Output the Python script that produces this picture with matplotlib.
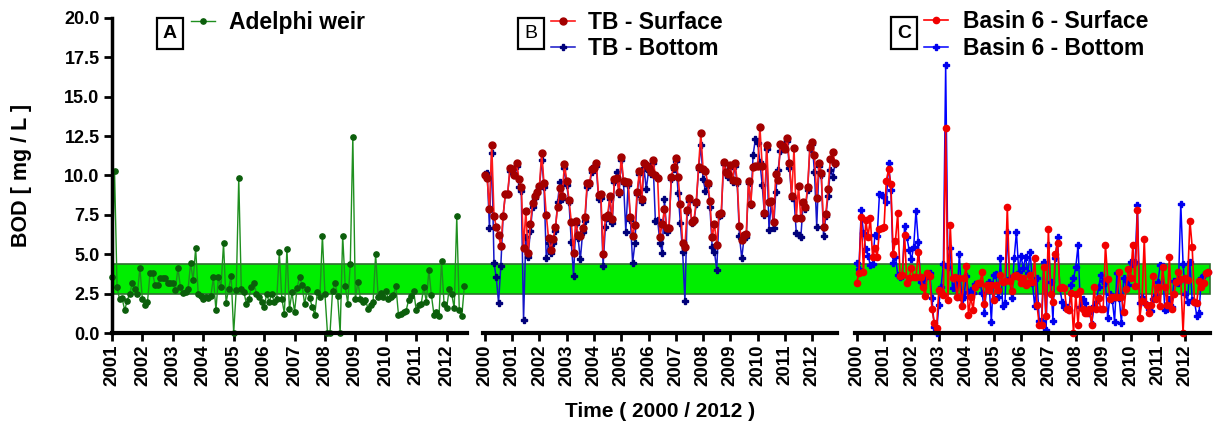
import numpy as np
import matplotlib
matplotlib.use("Agg")
import matplotlib.pyplot as plt
from matplotlib import transforms
from matplotlib.lines import Line2D
from matplotlib.patches import Rectangle

plt.rcParams['font.family'] = ['Liberation Sans', 'DejaVu Sans']
plt.rcParams['font.weight'] = 'bold'

# monthly BOD readings (mg/L)
adelphi_start = 2001
adelphi = [3.57, 10.3, 2.9, 2.13, 2.2, 1.45, 2.06, 2.5, 3.15, 2.77, 2.47, 4.13,
           2.13, 1.77, 1.98, 3.79, 3.79, 3.04, 3.04, 3.47, 3.47, 3.47, 3.19, 3.19,
           3.19, 2.72, 4.13, 2.89, 2.57, 2.6, 2.77, 4.43, 3.36, 5.38, 2.5, 2.36,
           2.15, 2.3, 2.25, 2.34, 3.53, 1.45, 3.57, 2.94, 5.7, 1.91, 2.8, 3.64,
           0.0, 2.72, 9.83, 2.81, 2.62, 1.87, 2.19, 2.94, 3.15, 2.5, 2.3, 1.98,
           1.62, 2.47, 1.98, 2.47, 1.98, 2.19, 5.13, 2.17, 1.23, 5.36, 1.51, 2.6,
           1.34, 2.85, 3.57, 3.04, 1.81, 2.77, 2.2, 1.66, 1.17, 2.6, 2.3, 6.19,
           2.47, 0.0, 0.0, 2.68, 3.19, 2.36, 0.0, 6.19, 2.98, 1.87, 4.38, 12.46,
           2.17, 3.26, 2.17, 1.98, 2.09, 1.55, 1.8, 1.98, 5.0, 2.3, 2.55, 2.3,
           2.68, 2.17, 2.3, 2.43, 2.96, 1.17, 1.23, 1.32, 1.4, 2.09, 2.34, 2.68,
           1.45, 1.77, 1.87, 2.94, 1.96, 4.0, 2.4, 1.17, 1.34, 1.09, 4.57, 1.83,
           1.57, 2.77, 2.47, 1.57, 7.4, 1.45, 1.09, 2.98]

tb_start = 2000
tb_surface = [10.03, 9.82, 7.85, 11.94, 7.43, 6.75, 6.22, 5.52, 7.43, 8.83, 8.83, 10.45,
              10.4, 10.03, 10.77, 9.76, 9.3, 5.38, 7.77, 5.06, 6.9, 8.23, 8.7, 8.97,
              9.33, 11.45, 9.5, 7.49, 6.01, 5.27, 5.95, 6.71, 8.0, 9.19, 8.7, 10.73,
              9.67, 8.44, 7.07, 5.1, 7.13, 6.22, 6.16, 6.65, 7.34, 9.5, 9.5, 10.39,
              10.45, 10.77, 8.76, 8.83, 5.02, 7.39, 7.49, 8.7, 7.22, 9.76, 9.82, 8.97,
              11.2, 9.67, 9.61, 9.6, 7.39, 6.16, 6.86, 8.97, 10.31, 8.49, 10.77, 10.67,
              10.45, 10.24, 10.98, 10.0, 9.82, 6.12, 6.92, 7.85, 6.65, 6.65, 9.93, 10.52,
              11.09, 9.93, 8.19, 5.69, 5.48, 7.81, 8.55, 7.07, 7.2, 8.34, 10.52, 12.68,
              10.39, 10.31, 9.55, 8.4, 6.07, 6.92, 5.57, 7.56, 7.6, 10.88, 10.24, 10.1,
              10.67, 9.71, 10.81, 9.67, 6.79, 5.9, 6.22, 6.29, 9.67, 8.19, 10.56, 10.6,
              10.6, 13.06, 10.6, 7.64, 11.94, 8.34, 8.4, 7.07, 10.1, 9.71, 12.0, 11.9,
              11.7, 12.36, 10.77, 8.7, 11.72, 7.28, 9.33, 7.28, 8.34, 8.02, 9.25, 11.83,
              12.15, 11.3, 8.55, 10.77, 10.18, 6.75, 7.56, 9.12, 11.03, 11.51, 10.81]
tb_bottom = [10.1, 10.18, 6.65, 11.45, 4.42, 3.53, 1.93, 4.25, 7.43, 8.83, 8.83, 10.3,
             10.2, 10.03, 10.6, 9.25, 9.0, 0.83, 6.07, 4.85, 6.5, 8.0, 8.6, 8.9,
             9.2, 11.0, 9.3, 4.74, 5.69, 5.1, 5.7, 6.5, 8.3, 9.6, 8.49, 10.5,
             9.4, 8.3, 5.8, 3.62, 6.9, 6.0, 4.68, 6.4, 7.1, 9.3, 9.4, 10.2,
             10.6, 10.6, 8.5, 8.6, 4.25, 6.75, 7.3, 8.5, 7.0, 9.6, 10.24, 8.8,
             11.0, 9.5, 6.43, 9.4, 7.2, 4.47, 5.69, 8.8, 10.1, 8.3, 10.5, 9.12,
             10.3, 10.1, 10.8, 7.13, 7.17, 5.74, 5.1, 8.49, 6.43, 6.6, 9.8, 10.4,
             10.9, 8.91, 6.96, 5.16, 2.05, 7.7, 8.4, 7.0, 7.1, 8.2, 10.4, 11.94,
             9.76, 9.04, 9.4, 8.02, 5.44, 5.16, 4.0, 7.4, 7.5, 10.7, 10.1, 9.9,
             10.5, 9.6, 10.6, 9.5, 6.16, 4.74, 6.01, 6.07, 9.5, 8.1, 11.3, 12.3,
             12.08, 10.88, 9.4, 7.5, 11.7, 6.54, 8.3, 6.65, 8.97, 10.35, 11.58, 11.7,
             12.04, 12.2, 10.45, 8.6, 8.55, 6.37, 6.22, 6.07, 8.2, 7.9, 9.1, 11.7,
             12.0, 10.24, 6.75, 10.6, 10.0, 6.16, 7.4, 8.7, 10.35, 9.93, 10.7]

basin_start = 2000
basin_surface = [3.2, 3.79, 7.39, 3.89, 7.17, 6.12, 7.28, 4.8, 5.38, 4.85, 6.58, 6.65,
                 6.71, 9.67, 10.39, 9.46, 5.02, 5.86, 7.6, 3.62, 3.7, 6.22, 3.2, 3.47,
                 4.1, 3.53, 3.53, 5.16, 3.53, 2.9, 2.35, 3.79, 3.6, 1.5, 0.66, 0.3,
                 2.73, 2.62, 2.41, 13.0, 2.1, 6.86, 3.47, 3.58, 2.3, 3.5, 1.71, 3.47,
                 4.25, 1.14, 2.3, 1.46, 2.9, 3.15, 3.15, 3.89, 1.84, 3.05, 2.73, 3.05,
                 2.1, 3.05, 2.73, 3.68, 3.26, 3.3, 7.98, 3.32, 2.69, 3.62, 3.68, 3.58,
                 3.2, 3.5, 3.05, 3.2, 3.68, 3.26, 4.74, 1.78, 0.5, 0.5, 4.17, 1.08,
                 6.58, 2.48, 1.99, 5.02, 5.69, 2.84, 2.94, 2.84, 1.5, 1.46, 2.56, 0.0,
                 2.48, 0.5, 2.69, 1.5, 1.25, 1.25, 1.5, 0.5, 2.9, 1.5, 2.2, 1.5,
                 1.5, 5.59, 3.41, 2.14, 2.31, 2.31, 2.31, 3.89, 2.3, 1.35, 2.77, 4.04,
                 3.47, 5.59, 2.98, 7.81, 0.93, 2.05, 5.95, 1.78, 1.25, 1.8, 3.62, 2.14,
                 2.94, 1.71, 4.17, 2.94, 1.78, 4.8, 1.5, 2.48, 3.26, 3.89, 3.4, 0.0,
                 3.47, 3.36, 7.13, 5.44, 1.99, 1.93, 3.32, 2.94, 3.2, 3.83, 3.9]
basin_bottom = [4.42, 4.04, 7.81, 6.33, 5.31, 4.89, 4.32, 4.38, 6.22, 6.16, 8.83, 8.76,
                8.66, 8.34, 10.77, 9.08, 4.47, 4.85, 3.7, 3.58, 3.6, 6.79, 6.07, 5.27,
                4.68, 5.48, 7.77, 5.8, 3.26, 3.1, 3.5, 3.7, 3.83, 2.2, 0.4, 0.0,
                1.78, 2.94, 4.38, 17.0, 4.2, 5.38, 2.84, 3.1, 2.3, 5.02, 2.14, 2.3,
                3.6, 2.62, 2.73, 2.52, 3.1, 3.1, 3.2, 2.52, 1.29, 3.05, 3.26, 0.72,
                3.68, 3.75, 2.3, 4.74, 1.71, 1.88, 6.43, 3.47, 2.2, 4.74, 6.43, 3.89,
                4.89, 4.1, 4.85, 3.79, 5.16, 3.2, 1.7, 3.47, 0.78, 0.78, 4.53, 0.19,
                5.59, 3.26, 0.78, 4.74, 6.07, 2.84, 1.99, 1.67, 1.63, 1.46, 3.05, 3.47,
                4.17, 5.59, 1.67, 2.14, 1.9, 1.4, 1.3, 0.57, 1.7, 2.0, 2.9, 3.68,
                3.3, 3.2, 0.93, 2.48, 2.1, 0.72, 3.8, 2.2, 0.66, 3.5, 3.3, 3.05,
                4.5, 4.4, 4.5, 8.13, 1.9, 2.3, 2.0, 1.8, 1.5, 1.4, 2.14, 2.4,
                3.26, 4.32, 4.25, 1.46, 1.5, 2.14, 1.67, 3.32, 3.26, 3.2, 8.2, 4.4,
                2.5, 2.0, 4.5, 2.1, 2.0, 1.1, 1.3, 3.5, 3.7, 3.8, 3.9]

# reference range band
band_low, band_high = 2.46, 4.36

W, H = 1221, 423
fig = plt.figure(figsize=(W / 100, H / 100), dpi=100)


def fx(px):
    return px / W


def fy(py):
    return 1 - py / H


def monthly(start, values):
    return start + np.arange(len(values)) / 12.0


def make_axes(left, right, x0, x1, years):
    ax = fig.add_axes([fx(left), fy(333), fx(right - left), (333 - 18) / H])
    ax.set_facecolor('none')
    ax.set_xlim(x0, x1)
    ax.set_ylim(0, 20)
    ax.set_xticks(years)
    ax.set_xticklabels([str(y) for y in years], rotation=90,
                       fontsize=13.5, fontweight='bold')
    ax.tick_params(axis='x', direction='out', length=6, width=2, pad=2)
    for s in ('top', 'right'):
        ax.spines[s].set_visible(False)
    ax.spines['bottom'].set_linewidth(3)
    ax.spines['left'].set_linewidth(2.5)
    return ax


axA = make_axes(112, 467, 2001, 2012.67, list(range(2001, 2013)))
axB = make_axes(483, 837, 1999.93, 2012.91, list(range(2000, 2013)))
axC = make_axes(855, 1210, 1999.94, 2012.9, list(range(2000, 2013)))

axA.set_yticks(np.arange(0, 20.1, 2.5))
axA.set_yticklabels(['%.1f' % v for v in np.arange(0, 20.1, 2.5)],
                    fontsize=13, fontweight='bold')
axA.tick_params(axis='y', direction='out', length=6, width=2, pad=3)
for ax in (axB, axC):
    ax.spines['left'].set_visible(False)
    ax.set_yticks([])

# green band spanning all three panels
tr = transforms.blended_transform_factory(fig.transFigure, axA.transData)
band = Rectangle((fx(112), band_low), fx(1210 - 112), band_high - band_low,
                 transform=tr, facecolor='#00ee00', edgecolor='#2f6f2f',
                 linewidth=1.2, zorder=-1)
fig.add_artist(band)

# series
sA = dict(color='#1f8f1f', lw=1, marker='o', ms=3.8, mfc='#0b5e0b', mec='#0b5e0b')
axA.plot(monthly(adelphi_start, adelphi), adelphi, clip_on=False, **sA)

sB_bot = dict(color='#1515c8', lw=1.1, marker='P', ms=4.5, mfc='#00007a', mec='#00007a')
sB_sur = dict(color='#ff1a1a', lw=1.2, marker='o', ms=5, mfc='#a30000', mec='#a30000')
axB.plot(monthly(tb_start, tb_bottom), tb_bottom, clip_on=False, **sB_bot)
axB.plot(monthly(tb_start, tb_surface), tb_surface, clip_on=False, **sB_sur)

sC_bot = dict(color='#0000ff', lw=1.1, marker='P', ms=4.5, mfc='#0000ee', mec='#0000ee')
sC_sur = dict(color='#ff0000', lw=1.2, marker='o', ms=4.5, mfc='#f00000', mec='#f00000')
axC.plot(monthly(basin_start, basin_bottom), basin_bottom, clip_on=False, **sC_bot)
axC.plot(monthly(basin_start, basin_surface), basin_surface, clip_on=False, **sC_sur)


# panel letters and legends
def letter_box(x0, x1, y0, y1, letter, weight):
    fig.add_artist(Rectangle((fx(x0), fy(y1)), fx(x1 - x0), (y1 - y0) / H,
                             transform=fig.transFigure, fill=False,
                             edgecolor='black', lw=1.6))
    fig.text(fx((x0 + x1) / 2), fy((y0 + y1) / 2), letter, ha='center',
             va='center', fontsize=14, fontweight=weight)


def legend_entry(x0, x1, y, style, text_x, baseline, label):
    st = dict(style)
    fig.add_artist(Line2D([fx(x0), fx((x0 + x1) / 2), fx(x1)], [fy(y)] * 3,
                          transform=fig.transFigure, markevery=[1], **st))
    fig.text(fx(text_x), fy(baseline), label, ha='left', va='baseline',
             fontsize=16.5, fontweight='bold')


letter_box(157, 183, 18, 49, 'A', 'bold')
legend_entry(191, 215, 21, sA, 229, 29, 'Adelphi weir')

letter_box(518, 544, 18, 49, 'B', 'normal')
legend_entry(551, 575, 21, sB_sur, 588, 29, 'TB - Surface')
legend_entry(551, 575, 47, sB_bot, 588, 55, 'TB - Bottom')

letter_box(891, 917, 17, 49, 'C', 'bold')
legend_entry(924, 948, 20, sC_sur, 963, 28, 'Basin 6 - Surface')
legend_entry(924, 948, 47, sC_bot, 963, 55, 'Basin 6 - Bottom')

fig.text(fx(22), fy(175), 'BOD [ mg / L ]', rotation=90, ha='center',
         va='center', fontsize=15.5, fontweight='bold')
fig.text(fx(660), fy(411), 'Time ( 2000 / 2012 )', ha='center', va='center',
         fontsize=15, fontweight='bold')

fig.savefig('out.png', dpi=100)
